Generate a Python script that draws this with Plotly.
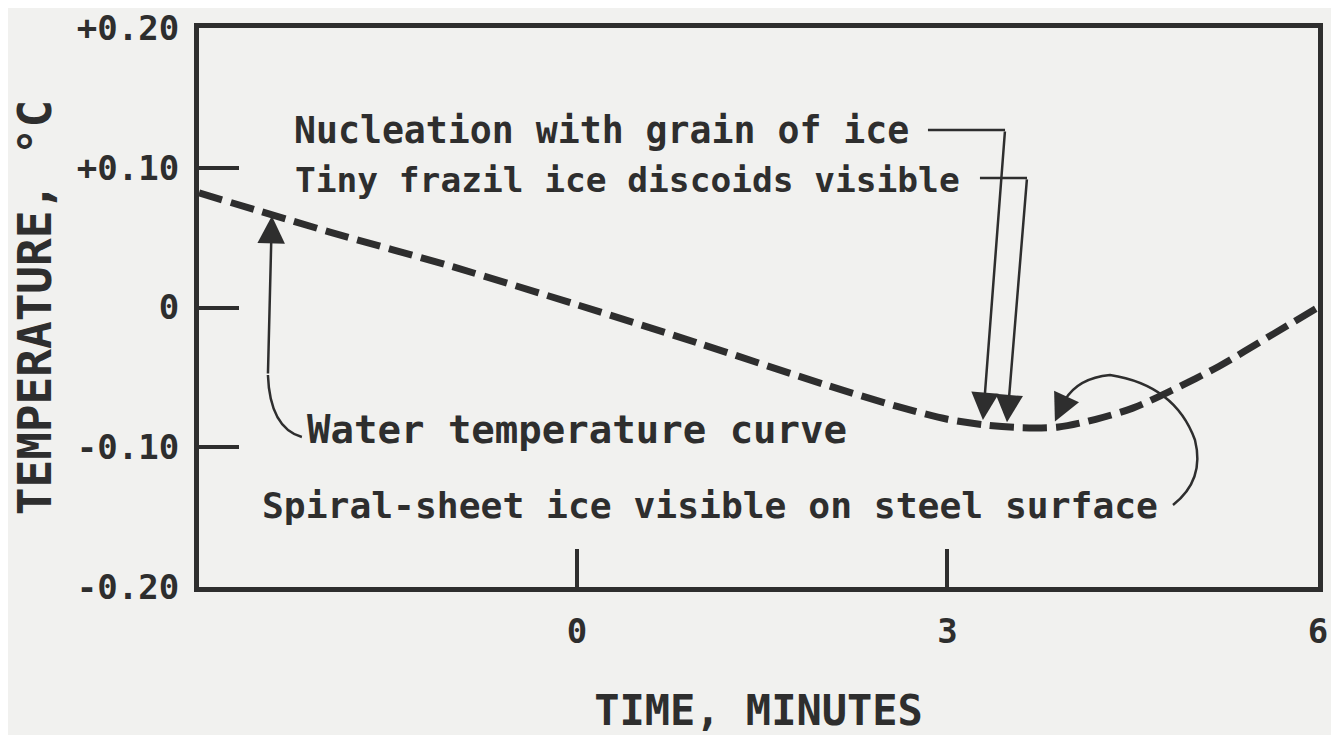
import plotly.graph_objects as go

# ---- data ----
time_min = [-3.06, -2.0, -1.0, 0.0, 1.0, 2.0, 2.6, 3.0, 3.3, 3.6, 3.9, 4.2, 4.5, 4.8, 5.2, 5.6, 6.0]
temp_c = [0.082, 0.054, 0.029, 0.002, -0.026, -0.055, -0.071, -0.080, -0.084, -0.086, -0.0855,
          -0.080, -0.072, -0.060, -0.042, -0.021, 0.0]

x_tickvals = [0, 3, 6]
x_ticktext = ["0", "3", "6"]
y_tickvals = [-0.2, -0.1, 0.0, 0.1, 0.2]
y_ticktext = ["-0.20", "-0.10", "0", "+0.10", "+0.20"]

INK = "#2e2e2e"
BG = "#f1f1ef"
FONT = "DejaVu Sans Mono"

fig = go.Figure()
fig.add_trace(go.Scatter(
    x=time_min, y=temp_c, mode="lines",
    line=dict(color=INK, width=7, dash="24px,9px", shape="spline", smoothing=0.8),
    hoverinfo="skip", showlegend=False,
))

annotations = []
shapes = []

def label(text, x, y, size=36):
    annotations.append(dict(x=x, y=y, xref="x", yref="y", text=text, showarrow=False,
                            xanchor="left", yanchor="middle", borderpad=0,
                            font=dict(family=FONT, size=size, color=INK, weight="bold")))

def arrow(tail, tip):
    annotations.append(dict(x=tip[0], y=tip[1], ax=tail[0], ay=tail[1], xref="x", yref="y",
                            axref="x", ayref="y", text="", showarrow=True,
                            arrowhead=2, arrowsize=2.2, arrowwidth=2.5, arrowcolor=INK,
                            standoff=0, startstandoff=0))

def seg(p0, p1):
    shapes.append(dict(type="line", xref="x", yref="y", x0=p0[0], y0=p0[1], x1=p1[0], y1=p1[1],
                       line=dict(color=INK, width=2.5)))

# Nucleation / Tiny frazil labels with leaders
label("Nucleation with grain of ice", -2.30, 0.127, size=36.5)
label("Tiny frazil ice discoids visible", -2.29, 0.0915, size=34.5)
seg((2.842, 0.127), (3.466, 0.127))
arrow((3.466, 0.127), (3.287, -0.0805))
seg((3.263, 0.0927), (3.644, 0.0927))
arrow((3.644, 0.0927), (3.482, -0.0822))

# Water temperature curve
label("Water temperature curve", -2.19, -0.087, size=39)
arrow((-2.502, -0.0483), (-2.470, 0.0655))
shapes.append(dict(type="path", xref="x", yref="y",
                   path="M -2.502,-0.0483 Q -2.486,-0.0862 -2.227,-0.0927",
                   line=dict(color=INK, width=2.5)))

# Spiral-sheet ice
label("Spiral-sheet ice visible on steel surface", -2.56, -0.142, size=36.3)
shapes.append(dict(type="path", xref="x", yref="y",
                   path=("M 4.826,-0.1413 Q 5.085,-0.1234 5.004,-0.0948 "
                         "Q 4.842,-0.0555 4.316,-0.0483 Q 4.057,-0.0505 3.951,-0.0662"),
                   line=dict(color=INK, width=2.5)))
arrow((3.951, -0.0662), (3.870, -0.0815))

# the page adds an 8px body margin, so the figure is shifted by 8px
fig.update_layout(
    width=1331, height=727,
    margin=dict(l=191, r=21, t=20, b=148, autoexpand=False),
    paper_bgcolor=BG, plot_bgcolor=BG,
    font=dict(family=FONT, color=INK, weight="bold"),
    annotations=annotations, shapes=shapes,
    showlegend=False,
)
fig.update_xaxes(
    range=[-3.06, 6.0], tickvals=x_tickvals, ticktext=x_ticktext,
    ticks="inside", ticklen=38, tickwidth=3.5, tickcolor=INK,
    showline=True, linewidth=5, linecolor=INK, mirror=True,
    showgrid=False, zeroline=False, automargin=False,
    tickfont=dict(family=FONT, size=34, color=INK, weight="bold"), ticklabelstandoff=10,
    ticklabeloverflow="allow",
    title=dict(text="TIME, MINUTES", font=dict(family=FONT, size=42, color=INK, weight="bold"),
               standoff=49),
)
fig.update_yaxes(
    range=[-0.2, 0.2], tickvals=y_tickvals, ticktext=y_ticktext,
    ticks="inside", ticklen=40, tickwidth=3.5, tickcolor=INK,
    showline=True, linewidth=5, linecolor=INK, mirror=True,
    showgrid=False, zeroline=False, automargin=False,
    tickfont=dict(family=FONT, size=34, color=INK, weight="bold"), ticklabelstandoff=8,
    ticklabeloverflow="allow",
    title=dict(text="TEMPERATURE, °C", font=dict(family=FONT, size=46, color=INK, weight="bold"),
               standoff=20),
)

fig.write_html("out.html")
